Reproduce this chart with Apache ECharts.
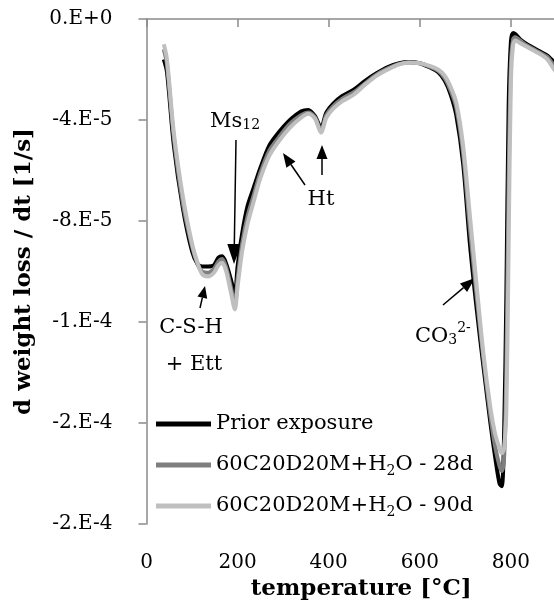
<!DOCTYPE html>
<html>
<head>
<meta charset="utf-8">
<script src="https://cdn.jsdelivr.net/npm/echarts@6/dist/echarts.min.js"></script>
<style>
  html, body { margin: 0; padding: 0; background: #fff; }
  #chart { width: 554px; height: 603px; }
</style>
</head>
<body>
<div id="chart"></div>
<script>
// temperature (°C) shared by all three curves
const tempC = [38, 45, 60, 80, 100, 112, 122, 135, 148, 158, 166, 175, 185, 194, 200, 210, 222, 235, 250, 270,
  290, 315, 340, 355, 370, 383, 395, 410, 430, 455, 480, 505, 530, 555, 575, 600, 620, 640, 655, 668,
  680, 695, 710, 725, 740, 755, 765, 775, 780, 785, 790, 795, 800, 805, 810, 820, 835, 850, 865, 880, 895, 905]

// d weight loss / dt, in units of 1E-5 1/s
const priorExposure = [-1.6, -2.1, -5.0, -7.5, -9.2, -9.7, -9.8, -9.8, -9.75, -9.45, -9.4, -9.7, -10.3, -10.9, -9.8, -8.5, -7.4, -6.7, -5.9, -5.0,
  -4.5, -4.0, -3.65, -3.6, -3.85, -4.3, -3.7, -3.35, -3.05, -2.8, -2.45, -2.15, -1.9, -1.75, -1.7, -1.75, -1.9, -2.1, -2.45, -3.0,
  -3.8, -5.7, -8.9, -11.5, -13.8, -16.0, -17.3, -18.4, -18.5, -16.5, -11.0, -3.5, -0.9, -0.55, -0.6, -0.8, -1.0, -1.15, -1.3, -1.45, -1.7, -1.75]
const exposed28d = [-1.2, -1.8, -4.7, -7.3, -9.0, -9.7, -10.0, -10.05, -9.9, -9.6, -9.5, -9.85, -10.6, -11.3, -10.3, -8.9, -7.8, -7.0, -6.1, -5.2,
  -4.7, -4.15, -3.8, -3.7, -3.9, -4.4, -3.8, -3.45, -3.15, -2.9, -2.55, -2.2, -1.95, -1.78, -1.72, -1.75, -1.88, -2.05, -2.35, -2.85,
  -3.5, -5.3, -8.3, -11.0, -13.5, -15.7, -16.9, -17.7, -17.9, -17.4, -14.0, -6.5, -1.8, -0.8, -0.72, -0.85, -1.05, -1.2, -1.35, -1.5, -1.85, -2.0]
const exposed90d = [-1.0, -1.6, -4.5, -7.05, -8.9, -9.65, -10.1, -10.2, -10.05, -9.75, -9.65, -10.0, -10.8, -11.5, -10.6, -9.2, -8.1, -7.25, -6.3, -5.4,
  -4.85, -4.3, -3.9, -3.75, -3.95, -4.5, -3.9, -3.55, -3.25, -3.0, -2.6, -2.25, -2.0, -1.8, -1.72, -1.75, -1.85, -2.0, -2.25, -2.7,
  -3.3, -5.0, -7.8, -10.6, -13.3, -15.4, -16.4, -17.0, -17.2, -17.0, -15.5, -9.0, -2.5, -1.0, -0.85, -0.95, -1.1, -1.25, -1.4, -1.6, -2.0, -2.2]

const yTickLabels = ['0.E+0', '-4.E-5', '-8.E-5', '-1.E-4', '-2.E-4', '-2.E-4']

const seriesNames = ['Prior exposure', '60C20D20M+H2O - 28d', '60C20D20M+H2O - 90d']
const seriesColors = ['#000000', '#7f7f7f', '#bfbfbf']

const FONT = '"DejaVu Serif", "Liberation Serif", serif'

const chart = echarts.init(document.getElementById('chart'))

function pairs(values) {
  return tempC.map((t, i) => [t, values[i]])
}

// arrow as a line plus a filled head, in pixels
function arrow(x1, y1, x2, y2, headLen, headW) {
  const dx = x2 - x1, dy = y2 - y1
  const len = Math.sqrt(dx * dx + dy * dy)
  const ux = dx / len, uy = dy / len
  const bx = x2 - ux * headLen, by = y2 - uy * headLen
  return [
    { type: 'line', shape: { x1, y1, x2: bx, y2: by }, style: { stroke: '#000', lineWidth: 1.5 } },
    {
      type: 'polygon',
      shape: { points: [[x2, y2], [bx - uy * headW / 2, by + ux * headW / 2], [bx + uy * headW / 2, by - ux * headW / 2]] },
      style: { fill: '#000' }
    }
  ]
}

const richText = {
  m: { fontFamily: FONT, fontSize: 21, lineHeight: 26, color: '#000', verticalAlign: 'bottom' },
  sub: { fontFamily: FONT, fontSize: 14, lineHeight: 12, color: '#000', verticalAlign: 'bottom' },
  sup: { fontFamily: FONT, fontSize: 14, lineHeight: 12, color: '#000', verticalAlign: 'top' }
}

function label(x, y, text, align) {
  return {
    type: 'text', x, y,
    style: { text, rich: richText, align: align || 'center', verticalAlign: 'middle', fill: '#000' }
  }
}

const annotations = [
  label(210, 119, '{m|Ms}{sub|12}', 'left'),
  ...arrow(236, 140, 234, 264, 20, 14),
  label(321, 197, '{m|Ht}'),
  ...arrow(305, 185, 283, 153, 14, 11),
  ...arrow(322, 175, 322, 145, 14, 11),
  label(191, 325, '{m|C-S-H}'),
  label(194, 362, '{m|+ Ett}'),
  ...arrow(200, 308, 205, 286, 12, 10),
  label(415, 334, '{m|CO}{sub|3}{sup|2-}', 'left'),
  ...arrow(443, 305, 475, 278, 15, 11)
]

const option = {
  animation: false,
  backgroundColor: '#fff',
  grid: { left: 146.5, top: 19, bottom: 79, right: -48, outerBoundsMode: 'none', containLabel: false },
  legend: {
    orient: 'vertical',
    left: 151,
    top: 406,
    itemWidth: 55,
    itemHeight: 5,
    itemGap: 15,
    icon: 'rect',
    data: seriesNames,
    formatter: name => name.replace('H2O', 'H{sub|2}O'),
    textStyle: {
      fontFamily: FONT, fontSize: 21, lineHeight: 26, color: '#000',
      rich: {
        sub: { fontFamily: FONT, fontSize: 14, lineHeight: 12, color: '#000', verticalAlign: 'bottom' }
      }
    }
  },
  xAxis: {
    type: 'value',
    min: 0,
    max: 1000,
    interval: 200,
    name: 'temperature [°C]',
    nameLocation: 'middle',
    nameGap: 50,
    nameTextStyle: { fontFamily: FONT, fontSize: 23, fontWeight: 'bold', color: '#000', padding: [0, 26, 0, 0] },
    axisLine: { lineStyle: { color: '#8a8a8a', width: 1.5 } },
    axisTick: { inside: false, length: 8, lineStyle: { color: '#8a8a8a', width: 1.5 } },
    axisLabel: { fontFamily: FONT, fontSize: 20, color: '#000', margin: 29 },
    splitLine: { show: false }
  },
  yAxis: {
    type: 'value',
    min: -20,
    max: 0,
    interval: 4,
    name: 'd weight loss / dt [1/s]',
    nameLocation: 'middle',
    nameGap: 111,
    nameTextStyle: { fontFamily: FONT, fontSize: 23, fontWeight: 'bold', color: '#000' },
    axisLine: { show: true, lineStyle: { color: '#8a8a8a', width: 1.5 } },
    axisTick: { show: true, length: 8, lineStyle: { color: '#8a8a8a', width: 1.5 } },
    axisLabel: {
      fontFamily: FONT, fontSize: 20, color: '#000', margin: 34,
      formatter: v => yTickLabels[Math.round(-v / 4)]
    },
    splitLine: { show: false }
  },
  series: [priorExposure, exposed28d, exposed90d].map((vals, i) => ({
    name: seriesNames[i],
    type: 'line',
    data: pairs(vals),
    smooth: 0.3,
    showSymbol: false,
    symbol: 'none',
    color: seriesColors[i],
    lineStyle: { width: 4, color: seriesColors[i] }
  })),
  graphic: annotations
}

chart.setOption(option)
</script>
</body>
</html>
